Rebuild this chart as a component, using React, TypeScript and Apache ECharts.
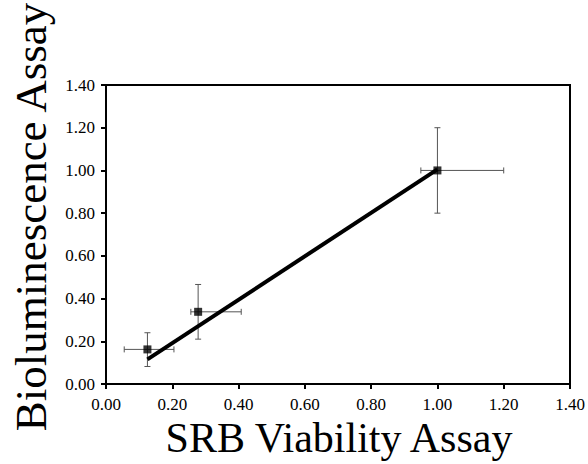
import React, { useEffect, useRef } from "react";
import * as echarts from "echarts";

const tickLabels = ["0.00", "0.20", "0.40", "0.60", "0.80", "1.00", "1.20", "1.40"];
const xTitle = "SRB Viability Assay";
const yTitle = "Bioluminescence Assay";
const pointX = [0.125, 0.278, 1.0];
const pointY = [0.162, 0.338, 1.0];
const xErrLow = [0.07, 0.022, 0.05];
const xErrHigh = [0.08, 0.13, 0.2];
const yErrLow = [0.08, 0.128, 0.2];
const yErrHigh = [0.078, 0.128, 0.2];
const fitX = [0.125, 1.0];
const fitY = [0.115, 1.005];

export default function App() {
  const ref = useRef<HTMLDivElement>(null);
  useEffect(() => {
    const chart = echarts.init(ref.current!, null, { renderer: "svg" });
    const font = "Liberation Serif";
    const errData = pointX.map((x, i) => [x, pointY[i], xErrLow[i], xErrHigh[i], yErrLow[i], yErrHigh[i]]);
    const fmt = (v: number) => tickLabels[Math.round(v / 0.2)] ?? v.toFixed(2);
    chart.setOption({
      animation: false,
      backgroundColor: "#ffffff",
      textStyle: { fontFamily: font },
      grid: { left: 106, top: 85, right: 18, bottom: 80, show: true, borderColor: "#000", borderWidth: 2, backgroundColor: "transparent" },
      xAxis: {
        type: "value",
        min: 0,
        max: 1.4,
        interval: 0.2,
        axisLine: { show: true, lineStyle: { color: "#000", width: 2 } },
        axisTick: { show: true, length: 5, lineStyle: { color: "#000", width: 2 } },
        axisLabel: { fontFamily: font, fontSize: 17, color: "#000", margin: 12, formatter: fmt },
        splitLine: { show: false },
      },
      yAxis: {
        type: "value",
        min: 0,
        max: 1.4,
        interval: 0.2,
        axisLine: { show: true, lineStyle: { color: "#000", width: 2 } },
        axisTick: { show: true, length: 5, lineStyle: { color: "#000", width: 2 } },
        axisLabel: { fontFamily: font, fontSize: 17, color: "#000", margin: 11, formatter: fmt },
        splitLine: { show: false },
      },
      graphic: [
        {
          type: "text",
          x: 31,
          y: 217,
          rotation: Math.PI / 2,
          style: { text: yTitle, fontFamily: font, fontSize: 45, fill: "#000", align: "center", verticalAlign: "middle" },
        },
        {
          type: "text",
          x: 339,
          y: 438,
          style: { text: xTitle, fontFamily: font, fontSize: 42, fill: "#000", align: "center", verticalAlign: "middle" },
        },
      ],
      series: [
        {
          type: "custom",
          data: errData,
          z: 2,
          renderItem: (params: any, api: any) => {
            const x = api.value(0), y = api.value(1);
            const xl = api.value(2), xh = api.value(3), yl = api.value(4), yh = api.value(5);
            const c = api.coord([x, y]);
            const l = api.coord([x - xl, y]);
            const r = api.coord([x + xh, y]);
            const b = api.coord([x, y - yl]);
            const t = api.coord([x, y + yh]);
            const cap = 3;
            const st = { stroke: "#555", lineWidth: 1 };
            return {
              type: "group",
              children: [
                { type: "line", shape: { x1: l[0], y1: c[1], x2: r[0], y2: c[1] }, style: st },
                { type: "line", shape: { x1: l[0], y1: c[1] - cap, x2: l[0], y2: c[1] + cap }, style: st },
                { type: "line", shape: { x1: r[0], y1: c[1] - cap, x2: r[0], y2: c[1] + cap }, style: st },
                { type: "line", shape: { x1: c[0], y1: t[1], x2: c[0], y2: b[1] }, style: st },
                { type: "line", shape: { x1: c[0] - cap, y1: t[1], x2: c[0] + cap, y2: t[1] }, style: st },
                { type: "line", shape: { x1: c[0] - cap, y1: b[1], x2: c[0] + cap, y2: b[1] }, style: st },
              ],
            };
          },
        },
        {
          type: "line",
          data: fitX.map((x, i) => [x, fitY[i]]),
          symbol: "none",
          lineStyle: { color: "#000", width: 4 },
          z: 3,
        },
        {
          type: "scatter",
          data: pointX.map((x, i) => [x, pointY[i]]),
          symbol: "rect",
          symbolSize: 8,
          itemStyle: { color: "#000" },
          z: 4,
        },
      ],
    });
    return () => chart.dispose();
  }, []);
  return <div ref={ref} style={{ position: "absolute", left: 0, top: 0, width: 588, height: 464 }} />;
}
